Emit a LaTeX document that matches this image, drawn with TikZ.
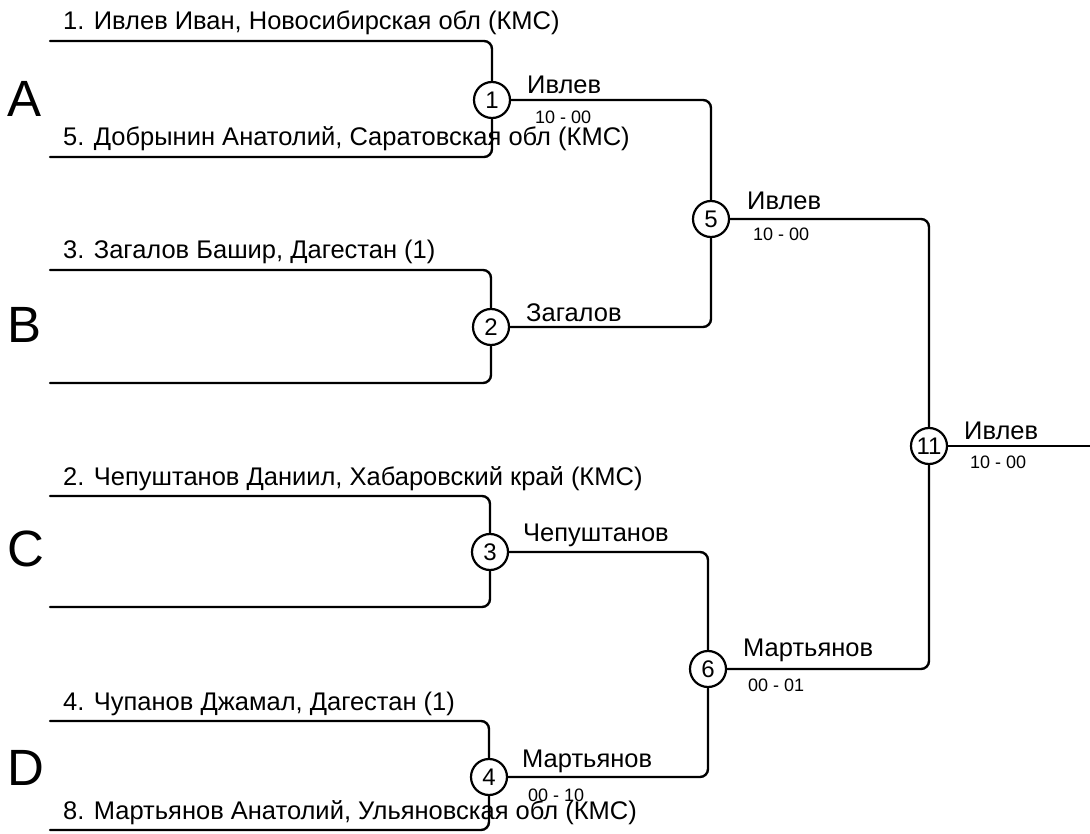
\documentclass[tikz,border=0pt]{standalone}
\usepackage{fontspec}
\setmainfont{Liberation Sans}
\begin{document}
\begin{tikzpicture}[x=1pt,y=-1pt,
  ln/.style={line width=2.4pt, rounded corners=8pt, line cap=round},
  mc/.style={circle, draw, fill=white, line width=2.2pt, minimum size=36pt, inner sep=0pt, font=\fontsize{24}{26}\selectfont},
  nm/.style={anchor=base west, inner sep=0pt, font=\fontsize{25.5}{28}\selectfont},
  win/.style={anchor=base west, inner sep=0pt, font=\fontsize{25.5}{28}\selectfont},
  sc/.style={anchor=west, inner sep=0pt, font=\fontsize{18}{20}\selectfont},
  grp/.style={anchor=west, inner sep=0pt, font=\fontsize{51}{56}\selectfont}]
\useasboundingbox (0,0) rectangle (1090,834);

% match circles
\node[mc] (m1) at (492,100) {1};
\node[mc] (m2) at (491,327) {2};
\node[mc] (m3) at (490,552) {3};
\node[mc] (m4) at (489,777) {4};
\node[mc] (m5) at (711,219) {5};
\node[mc] (m6) at (708,669) {6};
\node[mc] (m11) at (929,446) {11};

% line starts
\coordinate (s1) at (50,41);
\coordinate (s2) at (50,157);
\coordinate (s3) at (50,270);
\coordinate (s4) at (50,383);
\coordinate (s5) at (50,496);
\coordinate (s6) at (50,607);
\coordinate (s7) at (50,721);
\coordinate (s8) at (50,830);
\coordinate (fin) at (1092,446);

% first round brackets
\draw[ln] (s1) -- (s1 -| m1) -- (m1.north);
\draw[ln] (s2) -- (s2 -| m1) -- (m1.south);
\draw[ln] (s3) -- (s3 -| m2) -- (m2.north);
\draw[ln] (s4) -- (s4 -| m2) -- (m2.south);
\draw[ln] (s5) -- (s5 -| m3) -- (m3.north);
\draw[ln] (s6) -- (s6 -| m3) -- (m3.south);
\draw[ln] (s7) -- (s7 -| m4) -- (m4.north);
\draw[ln] (s8) -- (s8 -| m4) -- (m4.south);

% later rounds
\draw[ln] (m1.east) -- (m1.east -| m5) -- (m5.north);
\draw[ln] (m2.east) -- (m2.east -| m5) -- (m5.south);
\draw[ln] (m3.east) -- (m3.east -| m6) -- (m6.north);
\draw[ln] (m4.east) -- (m4.east -| m6) -- (m6.south);
\draw[ln] (m5.east) -- (m5.east -| m11) -- (m11.north);
\draw[ln] (m6.east) -- (m6.east -| m11) -- (m11.south);
\draw[ln] (m11.east) -- (fin);

% group letters
\node[grp] (gA) at (7,99) {A};
\node[grp] (gB) at (7,325) {B};
\node[grp] (gC) at (7,549) {C};
\node[grp] (gD) at (7,768) {D};

% competitor names
\node[nm] (n1) at (63,30) {1. Ивлев Иван, Новосибирская обл (КМС)};
\node[nm] (n5) at (63,146) {5. Добрынин Анатолий, Саратовская обл (КМС)};
\node[nm] (n3) at (63,259) {3. Загалов Башир, Дагестан (1)};
\node[nm] (n2) at (63,485) {2. Чепуштанов Даниил, Хабаровский край (КМС)};
\node[nm] (n4) at (63,710) {4. Чупанов Джамал, Дагестан (1)};
\node[nm] (n8) at (63,819) {8. Мартьянов Анатолий, Ульяновская обл (КМС)};

% winners and scores
\node[win] (w1) at (527,94) {Ивлев};
\node[sc] (r1) at (535,117) {10 - 00};
\node[win] (w2) at (526,322) {Загалов};
\node[win] (w3) at (523,541) {Чепуштанов};
\node[win] (w4) at (522,767) {Мартьянов};
\node[sc] (r4) at (528,795) {00 - 10};
\node[win] (w5) at (747,210) {Ивлев};
\node[sc] (r5) at (753,234) {10 - 00};
\node[win] (w6) at (743,656) {Мартьянов};
\node[sc] (r6) at (748,685) {00 - 01};
\node[win] (w11) at (964,439) {Ивлев};
\node[sc] (r11) at (970,462) {10 - 00};
\end{tikzpicture}
\end{document}
